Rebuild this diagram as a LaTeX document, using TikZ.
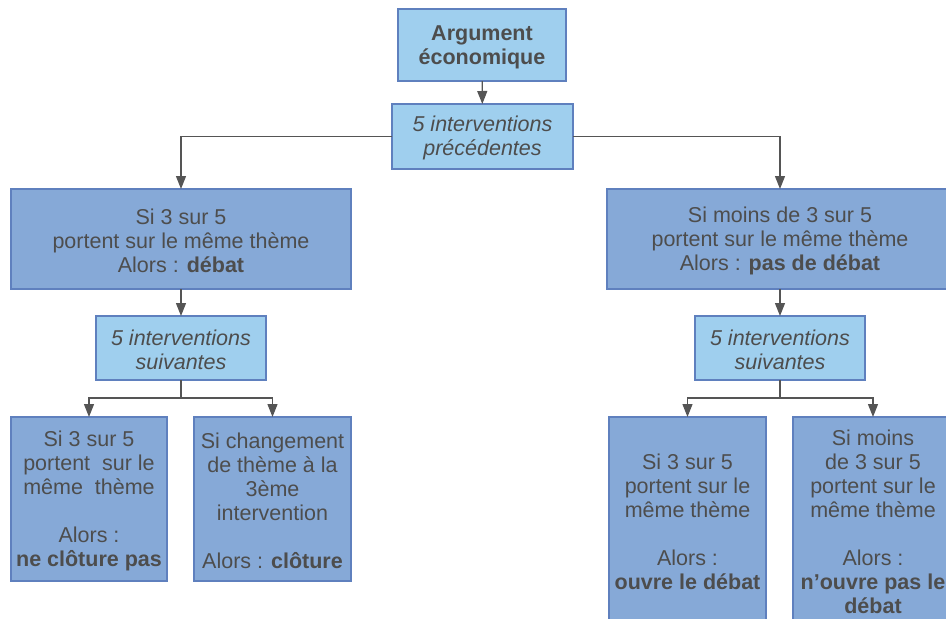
\documentclass[tikz,border=0pt]{standalone}
\usepackage{fontspec}
\setmainfont{Liberation Sans}
\usetikzlibrary{arrows.meta}
\definecolor{lightbox}{RGB}{159,207,238}
\definecolor{midbox}{RGB}{134,169,215}
\definecolor{edgeblue}{RGB}{95,128,190}
\definecolor{txt}{RGB}{77,77,77}
\definecolor{linegray}{RGB}{85,85,85}
\begin{document}
\begin{tikzpicture}[x=1pt,y=-1pt,
  box/.style={draw=edgeblue, line width=1.2pt, inner sep=0pt, outer sep=0pt, align=center, text=txt, font=\fontsize{21.5}{24}\selectfont},
  lbox/.style={box, fill=lightbox},
  mbox/.style={box, fill=midbox},
  conn/.style={draw=linegray, line width=1.3pt},
  arr/.style={conn, -{Triangle[length=13pt,width=10pt]}}]
\useasboundingbox (0,0) rectangle (946,619);
\clip (0,0) rectangle (946,619);

\node[lbox, minimum width=168, minimum height=72] (top) at (482,45) {\rule{0pt}{19pt}\textbf{Argument}\\\textbf{économique}};
\node[lbox, minimum width=181, minimum height=65] (prec) at (482.5,136.5) {\rule{0pt}{19pt}\textit{5 interventions}\\\textit{précédentes}};
\node[mbox, minimum width=340, minimum height=100] (L) at (181,239) {\rule{0pt}{19pt}Si 3 sur 5\\portent sur le même thème\\Alors : \textbf{débat}};
\node[mbox, minimum width=346, minimum height=100] (R) at (780,239) {\rule{0pt}{19pt}Si moins de 3 sur 5\\portent sur le même thème\\Alors : \textbf{pas de débat}};
\node[lbox, minimum width=170, minimum height=64] (LS) at (181,348) {\rule{0pt}{19pt}\textit{5 interventions}\\\textit{suivantes}};
\node[lbox, minimum width=170, minimum height=64] (RS) at (780,348) {\rule{0pt}{19pt}\textit{5 interventions}\\\textit{suivantes}};
\node[mbox, minimum width=156, minimum height=164] (A) at (89,499) {\rule{0pt}{19pt}Si 3 sur 5\\portent\ \ sur le\\même\ \ thème\\[24pt]Alors :\\\textbf{ne clôture pas}};
\node[mbox, minimum width=157, minimum height=164] (B) at (272.5,499) {\rule{0pt}{19pt}Si changement\\de thème à la\\3ème\\intervention\\[24pt]Alors : \textbf{clôture}};
\node[mbox, minimum width=157, minimum height=206] (C) at (687.5,520) {\rule{0pt}{19pt}Si 3 sur 5\\portent sur le\\même thème\\[24pt]Alors :\\\textbf{ouvre le débat}};
\node[mbox, minimum width=160, minimum height=206] (D) at (873,520) {\rule{0pt}{19pt}Si moins\\de 3 sur 5\\portent sur le\\même thème\\[24pt]Alors :\\\textbf{n’ouvre pas le}\\\textbf{débat}};

\draw[arr] (top) -- (prec);
\draw[arr] (prec.west) -| (L.north);
\draw[arr] (prec.east) -| (R.north);
\draw[arr] (L) -- (LS);
\draw[arr] (R) -- (RS);
\coordinate (lj) at (181,398);
\coordinate (rj) at (780,398);
\draw[conn] (LS.south) -- (lj);
\draw[arr] (lj) -| (A.north);
\draw[arr] (lj) -| (B.north);
\draw[conn] (RS.south) -- (rj);
\draw[arr] (rj) -| (C.north);
\draw[arr] (rj) -| (D.north);
\end{tikzpicture}
\end{document}
